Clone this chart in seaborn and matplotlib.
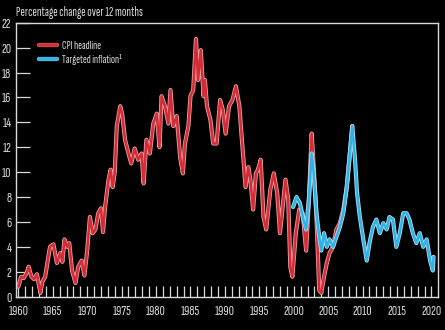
import matplotlib
matplotlib.use("Agg")
import matplotlib.pyplot as plt
import matplotlib.patheffects as pe
from matplotlib import font_manager
from matplotlib.ticker import MultipleLocator
import pandas as pd
import seaborn as sns

# ---- data ----
cpi_year = [1960.0, 1960.4, 1960.8, 1961.2, 1961.5, 1961.9, 1962.3, 1962.7, 1963.2, 1963.5,
            1963.9, 1964.3, 1964.6, 1965.1, 1965.6, 1966.1, 1966.4, 1966.7, 1967.1, 1967.4,
            1967.8, 1968.3, 1968.7, 1969.2, 1969.6, 1970.0, 1970.4, 1970.8, 1971.2, 1971.6,
            1972.0, 1972.3, 1972.6, 1973.1, 1973.4, 1973.7, 1974.0, 1974.3, 1974.8, 1975.1,
            1975.5, 1976.0, 1976.4, 1976.9, 1977.4, 1977.9, 1978.2, 1978.6, 1979.1, 1979.6,
            1980.1, 1980.5, 1980.8, 1981.3, 1981.8, 1982.1, 1982.5, 1983.0, 1983.5, 1983.9,
            1984.2, 1984.7, 1985.0, 1985.4, 1985.8, 1986.1, 1986.5, 1986.9, 1987.1, 1987.4,
            1987.9, 1988.3, 1988.8, 1989.3, 1989.7, 1990.1, 1990.6, 1991.1, 1991.6, 1992.1,
            1992.4, 1992.7, 1993.0, 1993.4, 1993.7, 1994.1, 1994.5, 1994.8, 1995.2, 1995.6,
            1996.0, 1996.6, 1997.1, 1997.6, 1998.0, 1998.5, 1998.8, 1999.2, 1999.5, 1999.8,
            2000.3, 2000.8, 2001.3, 2001.8, 2002.2, 2002.6, 2002.9, 2003.3, 2003.7, 2004.0,
            2004.4, 2004.8, 2005.2, 2005.7, 2006.2, 2006.7, 2007.2, 2007.7, 2008.1, 2008.5]
cpi_value = [0.8, 1.6, 1.5, 1.9, 2.4, 1.6, 1.4, 1.8, 0.3, 1.2,
             1.6, 3.0, 4.0, 4.2, 2.7, 3.5, 2.8, 4.6, 4.0, 4.3,
             2.1, 1.1, 2.4, 2.9, 1.7, 3.7, 6.4, 5.1, 5.4, 6.7,
             7.1, 5.2, 7.2, 9.4, 10.2, 8.8, 10.0, 13.7, 15.3, 14.6,
             12.6, 11.5, 10.7, 11.9, 11.0, 11.5, 9.1, 12.6, 11.5, 13.9,
             14.7, 12.0, 16.1, 15.3, 13.9, 16.6, 13.7, 14.5, 11.2, 9.9,
             12.3, 13.7, 16.1, 16.6, 20.7, 17.4, 19.8, 16.1, 17.4, 15.3,
             14.2, 12.3, 12.3, 15.8, 15.0, 13.1, 15.3, 15.8, 16.9, 15.3,
             13.1, 11.0, 8.8, 10.4, 9.4, 7.0, 9.9, 10.2, 11.0, 6.4,
             5.4, 8.6, 9.9, 8.3, 5.1, 7.8, 9.4, 7.8, 2.4, 1.6,
             5.1, 7.0, 6.7, 3.7, 7.8, 13.1, 10.4, 6.4, 0.5, 0.3,
             1.6, 2.7, 3.5, 4.0, 5.4, 5.9, 7.0, 8.8, 11.2, 13.7]

targ_year = [1999.9, 2000.4, 2000.9, 2001.4, 2001.8, 2002.2, 2002.6, 2002.9, 2003.3, 2003.7,
             2004.0, 2004.4, 2004.8, 2005.2, 2005.7, 2006.2, 2006.7, 2007.2, 2007.7, 2008.1,
             2008.5, 2008.9, 2009.2, 2009.6, 2010.1, 2010.6, 2011.0, 2011.5, 2012.0, 2012.5,
             2013.0, 2013.5, 2013.9, 2014.4, 2014.9, 2015.4, 2015.9, 2016.4, 2016.8, 2017.3,
             2017.8, 2018.3, 2018.8, 2019.3, 2019.8, 2020.2, 2020.3]
targ_value = [7.2, 8.0, 7.5, 6.2, 5.4, 7.8, 11.5, 9.9, 6.7, 4.8,
              3.7, 5.1, 4.0, 4.6, 4.0, 4.8, 5.6, 6.7, 8.8, 11.2,
              13.7, 11.0, 8.3, 6.4, 4.6, 2.9, 4.3, 5.6, 6.2, 5.1,
              5.9, 5.4, 6.4, 6.2, 4.0, 5.1, 6.7, 6.7, 6.2, 5.1,
              4.3, 5.1, 4.0, 4.6, 2.9, 2.1, 3.2]

series_labels = ["CPI headline", "Targeted inflation\u00b9"]
x_major = list(range(1960, 2021, 5))
y_major = list(range(0, 23, 2))
title = "Percentage change over 12 months"

# ---- style ----
sns.set_style("dark")
installed = {f.name for f in font_manager.fontManager.ttflist}
narrow = next((n for n in ("Sofia Sans Extra Condensed", "Saira ExtraCondensed",
                           "Roboto Condensed", "Liberation Sans") if n in installed), "DejaVu Sans")
plt.rcParams["font.family"] = [narrow, "DejaVu Sans"]

FG = "#d9d9d9"
RED = "#d42b34"
BLUE = "#2fb2e6"

fig = plt.figure(figsize=(4.45, 3.3), dpi=100, facecolor="black")
ax = fig.add_axes([0.035, 0.101, 0.9485, 0.830])
ax.set_facecolor("black")

df_cpi = pd.DataFrame({"year": cpi_year, "value": cpi_value})
df_t = pd.DataFrame({"year": targ_year, "value": targ_value})

sns.lineplot(data=df_cpi, x="year", y="value", ax=ax, color=RED, lw=1.8,
             estimator=None, sort=False, label=series_labels[0],
             path_effects=[pe.Stroke(linewidth=3.0, foreground="#e9a0a4"), pe.Normal()])
sns.lineplot(data=df_t, x="year", y="value", ax=ax, color=BLUE, lw=1.8,
             estimator=None, sort=False, label=series_labels[1],
             path_effects=[pe.Stroke(linewidth=3.0, foreground="#a8dcf2"), pe.Normal()])

ax.set_xlim(1959.6, 2020.9)
ax.set_ylim(0, 22)
ax.set_xlabel("")
ax.set_ylabel("")
ax.grid(False)

ax.set_xticks(x_major)
ax.xaxis.set_minor_locator(MultipleLocator(1))
ax.set_yticks(y_major)
ax.tick_params(axis="x", which="both", direction="in", length=8, width=0.9,
               colors=FG, labelsize=10.5, pad=6, bottom=True)
ax.tick_params(axis="y", which="major", direction="in", length=10, width=0.9,
               colors=FG, labelsize=10.5, pad=3, left=True)

for s in ax.spines.values():
    s.set_visible(True)
    s.set_color(FG)
    s.set_linewidth(1.0)

leg = ax.legend(loc="upper left", bbox_to_anchor=(0.045, 0.95), frameon=False,
                handlelength=1.5, handletextpad=0.45, labelspacing=0.25,
                fontsize=8.5, borderaxespad=0)
for t in leg.get_texts():
    t.set_color(FG)
for h in leg.legend_handles:
    h.set_linewidth(2.6)

fig.text(0.036, 0.963, title, color=FG, fontsize=9.5, ha="left", va="center")

fig.savefig("out.png", dpi=100, facecolor="black")
